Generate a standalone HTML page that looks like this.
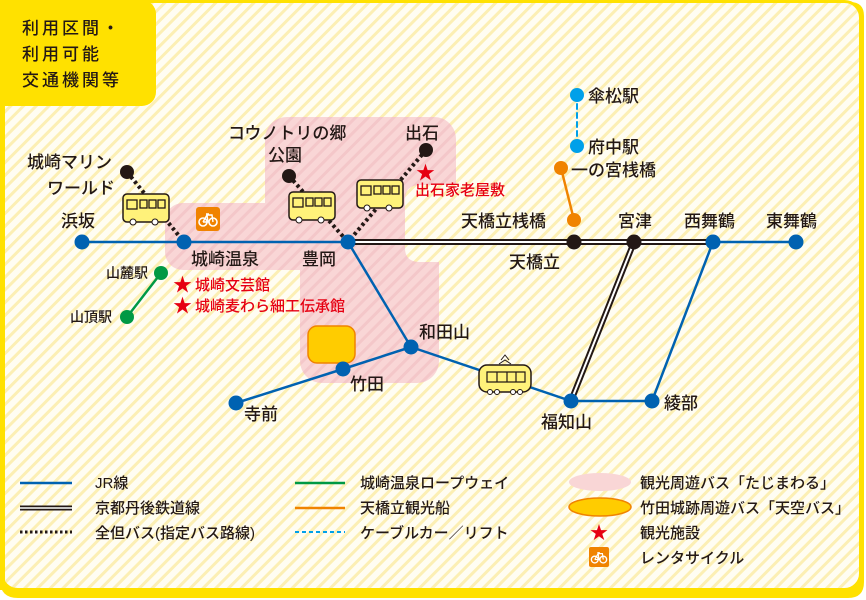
<!DOCTYPE html><html><head><meta charset="utf-8"><style>
body{margin:0;width:866px;height:600px;overflow:hidden;background:#fff}
svg{display:block}
text{font-family:"Liberation Sans","Noto Sans CJK JP",sans-serif;fill:#231815;font-weight:500}
.s{font-size:17px}.r{fill:#e60012}.l{font-size:15px}
</style></head><body>
<svg width="866" height="600" viewBox="0 0 866 600">
<defs>
<pattern id="st" width="9" height="9" patternUnits="userSpaceOnUse" patternTransform="rotate(45)">
<rect width="9" height="9" fill="#fffdf2"/><rect width="3" height="9" fill="#fcefb4"/></pattern>
<pattern id="pk" width="9" height="9" patternUnits="userSpaceOnUse" patternTransform="rotate(45)">
<rect width="9" height="9" fill="#f9d6d6"/><rect width="3" height="9" fill="#f4c7c9"/></pattern>
<g id="bus"><rect x="-27" y="-14" width="46" height="28" rx="4" fill="#fff27a" stroke="#231815" stroke-width="1.5"/><rect x="-23" y="-8" width="10" height="9" fill="none" stroke="#231815" stroke-width="1.3"/><rect x="-10" y="-8" width="7" height="8" fill="none" stroke="#231815" stroke-width="1.3"/><rect x="-1" y="-8" width="7" height="8" fill="none" stroke="#231815" stroke-width="1.3"/><rect x="8" y="-8" width="7" height="8" fill="none" stroke="#231815" stroke-width="1.3"/><circle cx="-17" cy="14" r="3" fill="#fff" stroke="#231815"/><circle cx="5" cy="14" r="3" fill="#fff" stroke="#231815"/></g>
<g id="bike"><circle cx="-5" cy="3" r="4" fill="none" stroke="#fff" stroke-width="1.6"/><circle cx="5" cy="3" r="4" fill="none" stroke="#fff" stroke-width="1.6"/><path d="M-5,3 L-1,-4 H4 L5,3 M-1,-4 L0,3 H-5 M-2,-5 H1" fill="none" stroke="#fff" stroke-width="1.4"/></g>
</defs>
<rect x="1.5" y="1.5" width="859" height="588" rx="16" fill="url(#st)" stroke="#ffe100" stroke-width="3"/>
<path d="M0,580 Q0,598 18,598 L848,598 Q864,598 864,582 L864,16 Q864,2 850,2 L859,8 L859,580 Q859,588 848,588 L18,588 Q5,588 4,580Z" fill="#ffe100"/>
<rect x="0" y="0" width="5" height="590" fill="#ffe100"/>
<rect x="0" y="0" width="156" height="106" rx="14" fill="#ffe100"/>
<rect x="0" y="0" width="40" height="106" fill="#ffe100"/>
<text x="22" y="34" class="s" letter-spacing="3">利用区間・</text>
<text x="22" y="60" class="s" letter-spacing="3">利用可能</text>
<text x="22" y="86" class="s" letter-spacing="3">交通機関等</text>
<g fill="url(#pk)">
<rect x="265" y="117" width="191" height="105" rx="22"/>
<rect x="165" y="203" width="240" height="67" rx="18"/>
<rect x="300" y="255" width="139" height="128" rx="22"/>
<rect x="265" y="190" width="140" height="80"/>
<rect x="300" y="240" width="139" height="40"/>
</g>
<path d="M405,200 Q405,185 420,185 L456,185 L456,262 L420,262 Q405,262 405,248Z" fill="url(#st)"/>
<rect x="300" y="262" width="20" height="20" fill="url(#pk)"/>
<rect x="308" y="326" width="47" height="37" rx="9" fill="#ffcc00" stroke="#f08300" stroke-width="1.5"/>
<g fill="none" stroke-linecap="round">
<path d="M82,242 H348 M348,242 L411,347 L343,369 L236,403 M411,347 L571,401 H652 L713,242 H796" stroke="#0062b1" stroke-width="2.5"/>
<path d="M348,242 H713 M634,242 L571,401" stroke="#231815" stroke-width="6"/>
<path d="M348,242 H713 M634,242 L571,401" stroke="#fff" stroke-width="2"/>
<path d="M161,273 L127,317" stroke="#009944" stroke-width="2.5"/>
<path d="M574,220 L561,168" stroke="#f08300" stroke-width="2.5"/>
<path d="M577,95 V146" stroke="#00a0e9" stroke-width="2" stroke-dasharray="5,4"/>
<path d="M127,172 L184,242 M289,176 L348,242 M426,150 L348,242" stroke="#231815" stroke-width="4" stroke-dasharray="3,3" stroke-linecap="butt"/>
</g>
<use href="#bus" x="150" y="208"/><use href="#bus" x="316" y="206"/><use href="#bus" x="384" y="194"/>
<g transform="translate(505,378)"><path d="M-4,-18 L0,-23 L4,-18 M-6,-14 L0,-18 L6,-14" stroke="#231815" fill="none"/><rect x="-26" y="-13" width="52" height="27" rx="8" fill="#fff27a" stroke="#231815" stroke-width="1.5"/><path d="M-18,-6 H20 V4 H-18Z M-8,-6 V4 M2,-6 V4 M11,-6 V4" fill="none" stroke="#231815" stroke-width="1.2"/><circle cx="-15" cy="14" r="2.5" fill="#fff" stroke="#231815"/><circle cx="-8" cy="14" r="2.5" fill="#fff" stroke="#231815"/><circle cx="8" cy="14" r="2.5" fill="#fff" stroke="#231815"/><circle cx="15" cy="14" r="2.5" fill="#fff" stroke="#231815"/></g>
<rect x="196" y="207" width="24" height="24" rx="3" fill="#f08300"/><use href="#bike" x="208" y="219"/>
<g fill="#0062b1"><circle cx="82" cy="242" r="7.5"/><circle cx="184" cy="242" r="7.5"/><circle cx="348" cy="242" r="7.5"/><circle cx="411" cy="347" r="7.5"/><circle cx="343" cy="369" r="7.5"/><circle cx="236" cy="403" r="7.5"/><circle cx="571" cy="401" r="7.5"/><circle cx="652" cy="401" r="7.5"/><circle cx="713" cy="242" r="7.5"/><circle cx="796" cy="242" r="7.5"/></g>
<g fill="#231815"><circle cx="574" cy="242" r="7.5"/><circle cx="634" cy="242" r="7.5"/><circle cx="127" cy="172" r="7"/><circle cx="289" cy="176" r="7"/><circle cx="426" cy="150" r="7"/></g>
<g fill="#009944"><circle cx="161" cy="273" r="7"/><circle cx="127" cy="317" r="7"/></g>
<g fill="#f08300"><circle cx="574" cy="220" r="7"/><circle cx="561" cy="168" r="7"/></g>
<g fill="#00a0e9"><circle cx="577" cy="95" r="7"/><circle cx="577" cy="146" r="7"/></g>
<text x="416" y="179" class="r" font-size="19">★</text><text x="173" y="291" class="r" font-size="19">★</text><text x="173" y="312" class="r" font-size="19">★</text>
<g class="s">
<text x="61" y="227" class="s">浜坂</text>
<text x="27" y="168" class="s">城崎マリン</text>
<text x="47" y="194" class="s">ワールド</text>
<text x="191" y="265" class="s">城崎温泉</text>
<text x="302" y="265" class="s">豊岡</text>
<text x="228" y="139" class="s">コウノトリの郷</text>
<text x="268" y="161" class="s">公園</text>
<text x="405" y="139" class="s">出石</text>
<text x="415" y="195" class="r" font-size="15">出石家老屋敷</text>
<text x="195" y="290" class="r" font-size="15">城崎文芸館</text>
<text x="195" y="311" class="r" font-size="15">城崎麦わら細工伝承館</text>
<text x="106" y="278" font-size="14">山麓駅</text>
<text x="70" y="322" font-size="14">山頂駅</text>
<text x="419" y="338" class="s">和田山</text>
<text x="350" y="390" class="s">竹田</text>
<text x="244" y="420" class="s">寺前</text>
<text x="541" y="428" class="s">福知山</text>
<text x="664" y="409" class="s">綾部</text>
<text x="461" y="227" class="s">天橋立桟橋</text>
<text x="509" y="268" class="s">天橋立</text>
<text x="618" y="227" class="s">宮津</text>
<text x="684" y="227" class="s">西舞鶴</text>
<text x="766" y="227" class="s">東舞鶴</text>
<text x="588" y="102" class="s">傘松駅</text>
<text x="588" y="153" class="s">府中駅</text>
<text x="571" y="176" class="s">一の宮桟橋</text>
</g>
<g fill="none">
<path d="M20,483 H72" stroke="#0062b1" stroke-width="2.5"/>
<path d="M20,508 H72" stroke="#231815" stroke-width="5"/><path d="M20,508 H72" stroke="#fff" stroke-width="1.5"/>
<path d="M20,532 H72" stroke="#231815" stroke-width="3" stroke-dasharray="2.5,2.5"/>
<path d="M295,483 H345" stroke="#009944" stroke-width="2.5"/>
<path d="M295,508 H345" stroke="#f08300" stroke-width="2.5"/>
<path d="M295,532 H345" stroke="#00a0e9" stroke-width="2" stroke-dasharray="4,3"/>
</g>
<ellipse cx="600" cy="482" rx="31" ry="9" fill="#f9d6d6"/>
<ellipse cx="600" cy="507" rx="31" ry="9" fill="#ffcc00" stroke="#f08300" stroke-width="1.5"/>
<text x="590" y="539" class="r" font-size="18">★</text>
<rect x="589" y="547" width="20" height="20" rx="2" fill="#f08300"/><use href="#bike" x="599" y="557" transform="translate(599,557) scale(0.85) translate(-599,-557)"/>
<g>
<text x="95" y="488" class="l">JR線</text>
<text x="95" y="513" class="l">京都丹後鉄道線</text>
<text x="95" y="538" class="l">全但バス(指定バス路線)</text>
<text x="360" y="488" class="l">城崎温泉ロープウェイ</text>
<text x="360" y="513" class="l">天橋立観光船</text>
<text x="360" y="538" class="l">ケーブルカー／リフト</text>
<text x="640" y="488" class="l">観光周遊バス「たじまわる」</text>
<text x="640" y="513" class="l">竹田城跡周遊バス「天空バス」</text>
<text x="640" y="538" class="l">観光施設</text>
<text x="640" y="563" class="l">レンタサイクル</text>
</g>
</svg>
</body></html>
